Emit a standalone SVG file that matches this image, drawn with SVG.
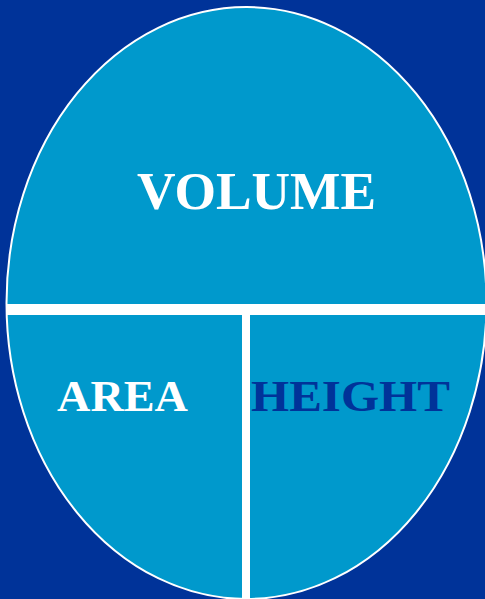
<svg xmlns="http://www.w3.org/2000/svg" width="485" height="599" viewBox="0 0 485 599">
<style>
.lbl{font-family:"Liberation Serif","Times New Roman",serif;font-weight:bold;}
</style>
<rect x="0" y="0" width="485" height="599" fill="#003399"/>
<g id="oval">
<ellipse cx="246.5" cy="303" rx="240" ry="296" fill="#0099CC" stroke="#ffffff" stroke-width="2"/>
</g>
<g id="dividers" fill="#ffffff">
<rect x="7" y="304" width="478" height="11"/>
<rect x="242" y="315" width="8" height="284"/>
</g>
<g id="volume">
<text class="lbl" x="137" y="209" font-size="53" fill="#ffffff" textLength="239" lengthAdjust="spacingAndGlyphs">VOLUME</text>
</g>
<g id="area">
<text class="lbl" x="57" y="411" font-size="45" fill="#ffffff" textLength="131" lengthAdjust="spacingAndGlyphs">AREA</text>
</g>
<g id="height">
<text class="lbl" x="251" y="411" font-size="45" fill="#003399" textLength="199" lengthAdjust="spacingAndGlyphs">HEIGHT</text>
</g>
</svg>
